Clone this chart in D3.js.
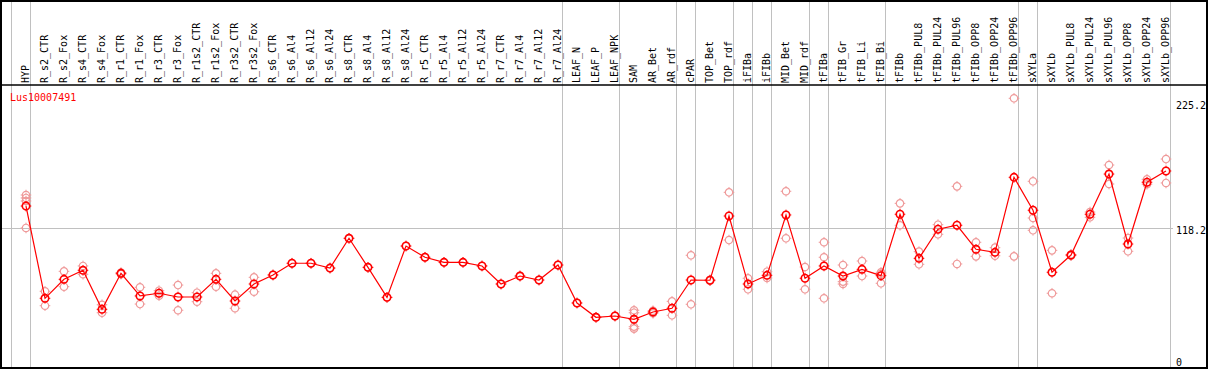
<!DOCTYPE html>
<html>
<head>
<style>
body { margin: 0; background: #fff; }
text { font-family: "DejaVu Sans Mono", monospace; font-size: 10px; }
</style>
<script src="https://d3js.org/d3.v7.min.js"></script>
</head>
<body>
<svg id="chart" width="1209" height="370"></svg>
<script>
var geneId = "Lus10007491";

var samples = ["HYP","R_s2_CTR","R_s2_Fox","R_s4_CTR","R_s4_Fox","R_r1_CTR","R_r1_Fox","R_r3_CTR","R_r3_Fox",
  "R_r1s2_CTR","R_r1s2_Fox","R_r3s2_CTR","R_r3s2_Fox","R_s6_CTR","R_s6_Al4","R_s6_Al12","R_s6_Al24",
  "R_s8_CTR","R_s8_Al4","R_s8_Al12","R_s8_Al24","R_r5_CTR","R_r5_Al4","R_r5_Al12","R_r5_Al24",
  "R_r7_CTR","R_r7_Al4","R_r7_Al12","R_r7_Al24","LEAF_N","LEAF_P","LEAF_NPK","SAM","AR_Bet","AR_rdf",
  "cPAR","TOP_Bet","TOP_rdf","iFIBa","iFIBb","MID_Bet","MID_rdf","tFIBa","tFIB_Gr","tFIB_Li","tFIB_Bi",
  "tFIBb","tFIBb_PUL8","tFIBb_PUL24","tFIBb_PUL96","tFIBb_OPP8","tFIBb_OPP24","tFIBb_OPP96",
  "sXYLa","sXYLb","sXYLb_PUL8","sXYLb_PUL24","sXYLb_PUL96","sXYLb_OPP8","sXYLb_OPP24","sXYLb_OPP96"];

var means = [137.3, 58.6, 74.8, 82.5, 49.2, 79.9, 60.6, 62.9, 59.7, 59.7, 74.8, 56.3, 70.8,
  78.5, 88.5, 88.5, 84.4, 109.8, 85.0, 59.4, 103.2, 93.6, 89.3, 89.3, 86.2, 70.8, 77.6, 74.2, 87.0,
  54.6, 42.4, 43.5, 40.7, 46.9, 50.1, 74.2, 74.0, 128.8, 70.8, 78.2, 129.7, 75.7, 86.2, 77.6, 83.3, 77.9,
  130.3, 92.7, 117.5, 120.9, 100.4, 97.8, 161.8, 133.7, 80.8, 95.5, 130.3, 164.6, 104.9, 157.6, 167.2];

// replicate values per sample
var reps = [
  [146.7, 144.2, 141.6, 118.6], [64.6, 52.3], [81.6, 68.5], [86.2, 79.1], [53.1, 46.3],
  [80.6, 79.2], [68.0, 53.7], [65.1, 60.8], [69.9, 48.4], [63.4, 55.7], [79.9, 68.5],
  [61.7, 50.1], [76.5, 64.2], [78.5], [88.5], [88.5], [84.4], [109.8], [85.0], [59.4], [103.2],
  [93.6], [89.3], [89.3], [86.2], [70.8], [77.6], [74.2], [87.0], [54.6], [42.4], [43.5],
  [48.4, 46.3, 34.4, 32.7], [48.0, 45.8], [56.0, 44.1], [95.3, 53.5], [74.4, 73.6],
  [149.0, 108.3], [75.7, 66.3], [81.3, 75.9], [149.9, 109.8], [85.3, 66.3],
  [106.4, 93.6, 58.6], [87.0, 72.8, 70.8], [90.4, 77.6], [80.8, 79.5, 71.4],
  [139.6, 120.9], [98.4, 87.6], [121.4, 113.2], [154.1, 87.9], [106.4, 94.4], [101.8, 94.9],
  [229.2, 94.4], [158.4, 127.1, 116.6], [99.5, 62.9], [96.0, 95.0], [132.2, 127.7],
  [172.3, 156.1], [110.0, 98.7], [160.1, 155.9], [177.4, 157.0]
];

// vertical separators drawn after these sample indices (-1 = before the first)
var groupEnds = [-1, 0, 28, 31, 34, 35, 37, 38, 39, 41, 42, 45, 52, 53, 60];
var yTicks = [0, 118.2, 225.2];
var gridValues = [118.2];

var labelBottom = 85, frameRight = 1207, frameBottom = 368;

var svg = d3.select("#chart");

var x = d3.scaleLinear().domain([0, samples.length - 1]).range([26, 1166]);
var y = d3.scaleLinear().domain([0, 225.2]).range([367, 103]);

// grid
svg.append("g").selectAll("line")
  .data(groupEnds)
  .enter().append("line")
  .attr("x1", function(i) { return Math.round(x(i) + 4) + 0.5; })
  .attr("x2", function(i) { return Math.round(x(i) + 4) + 0.5; })
  .attr("y1", 0).attr("y2", frameBottom)
  .attr("stroke", "#c0c0c0").attr("stroke-width", 1);

svg.append("g").selectAll("line")
  .data(gridValues)
  .enter().append("line")
  .attr("x1", 1).attr("x2", 1173)
  .attr("y1", function(d) { return Math.round(y(d)) + 0.5; })
  .attr("y2", function(d) { return Math.round(y(d)) + 0.5; })
  .attr("stroke", "#c0c0c0").attr("stroke-width", 1);

// frame + header separator
svg.append("rect")
  .attr("x", 1).attr("y", 1).attr("width", frameRight - 1).attr("height", frameBottom - 1)
  .attr("fill", "none").attr("stroke", "#000").attr("stroke-width", 2);
svg.append("line")
  .attr("x1", 1).attr("x2", frameRight).attr("y1", labelBottom).attr("y2", labelBottom)
  .attr("stroke", "#000").attr("stroke-width", 1.5);

// sample names, rotated
svg.append("g").selectAll("text")
  .data(samples)
  .enter().append("text")
  .attr("transform", function(d, i) { return "translate(" + (x(i) + 3) + "," + (labelBottom - 2) + ") rotate(-90)"; })
  .attr("fill", "#000")
  .text(function(d) { return d; });

// y labels on the right
svg.append("g").selectAll("text")
  .data(yTicks)
  .enter().append("text")
  .attr("x", 1176)
  .attr("y", function(d) { return Math.min(y(d) + 6, 366); })
  .attr("fill", "#000")
  .text(function(d) { return d; });

svg.append("text")
  .attr("x", 10).attr("y", 101)
  .attr("fill", "#ff0000")
  .text(geneId);

function marker(g, color, sw) {
  g.append("circle").attr("r", 3.7).attr("fill", "none").attr("stroke", color).attr("stroke-width", sw);
  [[0, -1], [0, 1], [-1, 0], [1, 0]].forEach(function(v) {
    g.append("line")
      .attr("x1", v[0] * 3.8).attr("y1", v[1] * 3.8)
      .attr("x2", v[0] * 5.3).attr("y2", v[1] * 5.3)
      .attr("stroke", color).attr("stroke-width", 1);
  });
}

// replicate points
var repPts = [];
reps.forEach(function(r, i) { r.forEach(function(v) { repPts.push({ i: i, v: v }); }); });

svg.append("g").selectAll("g")
  .data(repPts)
  .enter().append("g")
  .attr("transform", function(d) { return "translate(" + x(d.i) + "," + y(d.v) + ")"; })
  .each(function() { marker(d3.select(this), "#ef9a9a", 1.2); });

// mean line
var lineGen = d3.line()
  .x(function(d, i) { return x(i); })
  .y(function(d) { return y(d); });

svg.append("path")
  .attr("d", lineGen(means))
  .attr("fill", "none")
  .attr("stroke", "#ff0000")
  .attr("stroke-width", 1.2);

svg.append("g").selectAll("g")
  .data(means)
  .enter().append("g")
  .attr("transform", function(d, i) { return "translate(" + x(i) + "," + y(d) + ")"; })
  .each(function() { marker(d3.select(this), "#ff0000", 1.6); });
</script>
</body>
</html>
